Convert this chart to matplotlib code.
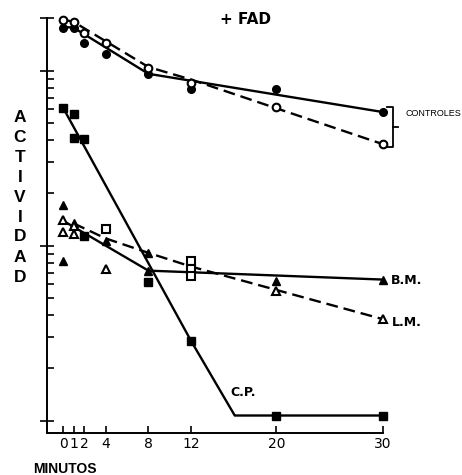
import matplotlib
matplotlib.use('Agg')
import matplotlib.pyplot as plt
from matplotlib.ticker import FixedLocator, NullFormatter

# minutes on x, activity (log scale, arbitrary units) on y
ctrl_x = [0, 1, 2, 4, 8, 12, 20, 30]
ctrl_filled = [176, 176, 144, 125, 96, 79, 79, 58]
ctrl_open = [196, 190, 165, 143, 104, 85, 62, 38]
ctrl_solid_x = [0, 1, 8, 30]
ctrl_solid_y = [178, 176, 96, 58]
ctrl_dash_x = [0, 1, 8, 12, 30]
ctrl_dash_y = [196, 190, 105, 89, 38]

cp_x = [0, 1, 1, 2, 8, 12, 20, 30]
cp_y = [61.5, 56.8, 41.4, 40.9, 6.2, 2.86, 1.07, 1.07]
cp_line_x = [0, 12, 16.1, 30]
cp_line_y = [61.5, 2.86, 1.07, 1.07]

bm_x = [0, 0, 1, 4, 8, 8, 20, 30]
bm_y = [17.1, 8.2, 13.5, 10.7, 9.1, 7.2, 6.3, 6.4]
bm_line_x = [0, 8, 30]
bm_line_y = [13.9, 7.2, 6.4]

lm_x = [0, 0, 1, 1, 4, 20, 30]
lm_y = [14.1, 12.0, 13.0, 11.7, 7.4, 5.5, 3.8]
lm_line_x = [1, 4, 8, 12, 30]
lm_line_y = [13.4, 11.0, 9.1, 7.6, 3.8]

sq_open_x = [4, 12, 12, 12]
sq_open_y = [12.5, 8.2, 7.4, 6.7]
sq_fill_x = [2]
sq_fill_y = [11.4]

xticks = [0, 1, 2, 4, 8, 12, 20, 30]
letters = 'ACTIVIDAD'

W, H = 462, 475
fig = plt.figure(figsize=(W / 100, H / 100), dpi=100)
ax = fig.add_axes([47 / W, 1 - 433 / H, (383 - 47) / W, (433 - 18) / H])
ax.set_yscale('log')
ax.set_xlim(-1.5, 30)
ax.set_ylim(0.85, 200)

lw = 1.7
dash = (0, (5, 2.5))
ax.plot(ctrl_solid_x, ctrl_solid_y, color='black', lw=lw)
ax.plot(ctrl_dash_x, ctrl_dash_y, color='black', lw=lw, linestyle=dash)
ax.plot(cp_line_x, cp_line_y, color='black', lw=lw)
ax.plot(bm_line_x, bm_line_y, color='black', lw=lw)
ax.plot(lm_line_x, lm_line_y, color='black', lw=lw, linestyle=dash)

ms = 5.5
ax.plot(ctrl_x, ctrl_filled, 'o', color='black', ms=ms, clip_on=False)
ax.plot(ctrl_x, ctrl_open, 'o', mfc='white', mec='black', mew=1.5, ms=ms, clip_on=False)
ax.plot(cp_x, cp_y, 's', color='black', ms=ms, clip_on=False)
ax.plot(bm_x, bm_y, '^', color='black', ms=ms + 0.5, clip_on=False)
ax.plot(lm_x, lm_y, '^', mfc='white', mec='black', mew=1.5, ms=ms + 0.5, clip_on=False)
ax.plot(sq_open_x, sq_open_y, 's', mfc='white', mec='black', mew=1.5, ms=ms, clip_on=False)
ax.plot(sq_fill_x, sq_fill_y, 's', color='black', ms=ms, clip_on=False)

for s in ['top', 'right']:
    ax.spines[s].set_visible(False)
for s in ['left', 'bottom']:
    ax.spines[s].set_linewidth(1.4)

ax.set_xticks(xticks)
ax.set_xticklabels([str(t) for t in xticks], fontsize=10)
ax.tick_params(axis='x', direction='in', length=5, width=1.2, pad=3)

major = [1, 10, 100, 200]
minor = [m * d for d in [1, 10] for m in range(2, 10)]
ax.yaxis.set_major_locator(FixedLocator(major))
ax.yaxis.set_minor_locator(FixedLocator(minor))
ax.yaxis.set_major_formatter(NullFormatter())
ax.yaxis.set_minor_formatter(NullFormatter())
ax.tick_params(axis='y', which='major', direction='inout', length=10, width=1.2)
ax.tick_params(axis='y', which='minor', direction='in', length=5, width=1.2)

# text labels
fig.text(245 / W, 1 - 20 / H, '+ FAD', ha='center', va='center',
         fontsize=11, fontweight='bold')
fig.text(405 / W, 1 - 113 / H, 'CONTROLES', ha='left', va='center',
         fontsize=6.5, family='Liberation Sans')
fig.text(391 / W, 1 - 280 / H, 'B.M.', ha='left', va='center',
         fontsize=9, fontweight='bold')
fig.text(392 / W, 1 - 322 / H, 'L.M.', ha='left', va='center',
         fontsize=9, fontweight='bold')
fig.text(230 / W, 1 - 393 / H, 'C.P.', ha='left', va='center',
         fontsize=9, fontweight='bold')
for i, ch in enumerate(letters):
    fig.text(20 / W, 1 - (117 + i * 20) / H, ch, ha='center', va='center',
             fontsize=12.5, fontweight='bold', family='Liberation Sans')
fig.text(33 / W, 1 - 469 / H, 'MINUTOS', ha='left', va='center',
         fontsize=10, fontweight='bold', family='Liberation Sans')

# bracket for controls
bx, by0, by1 = 393, 107, 147
fig.add_artist(plt.Line2D([(bx - 6) / W, bx / W, bx / W, (bx - 6) / W],
                          [1 - by0 / H, 1 - by0 / H, 1 - by1 / H, 1 - by1 / H],
                          color='black', lw=1.3))
fig.add_artist(plt.Line2D([bx / W, (bx + 5) / W], [1 - 127 / H, 1 - 127 / H],
                          color='black', lw=1.3))

fig.savefig('out.png', dpi=100)
